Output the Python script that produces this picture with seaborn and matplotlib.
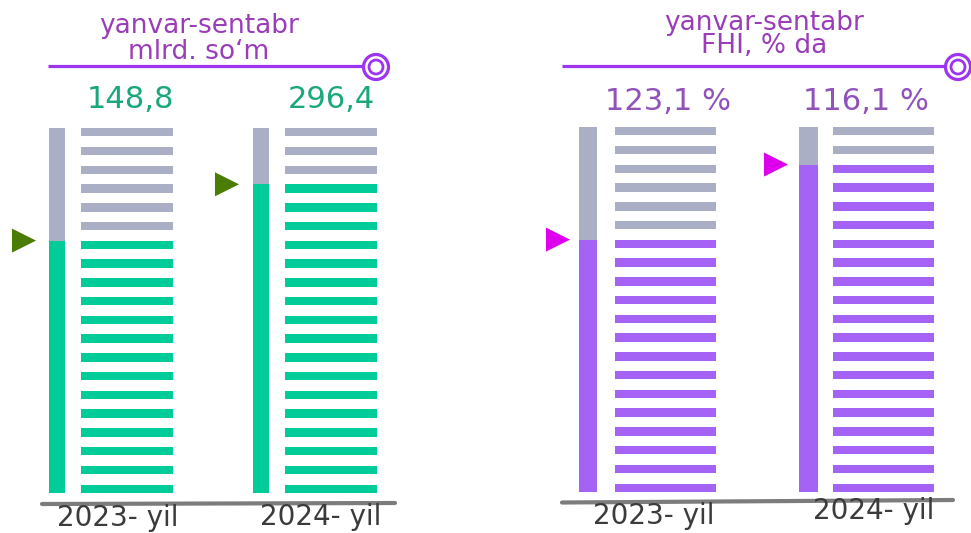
import matplotlib
matplotlib.use("Agg")
import matplotlib.pyplot as plt
import matplotlib.transforms as mtransforms
from matplotlib.patches import Circle
import numpy as np
import pandas as pd
import seaborn as sns

# ---------------- data ----------------
years = ["2023- yil", "2024- yil"]
sum_values = [148.8, 296.4]          # mlrd. so'm
growth_values = [123.1, 116.1]       # FHI, % da
total_stripes = 20
sum_filled = [14, 17]                # filled stripes, left panel
growth_filled = [14, 18]             # filled stripes, right panel
left_title = ["yanvar-sentabr", "mlrd. so\u2018m"]
right_title = ["yanvar-sentabr", "FHI, % da"]

# ---------------- style ----------------
sns.set_theme(style="white")
plt.rcParams["font.family"] = ["DejaVu Sans"]

W, H = 971, 533
fig = plt.figure(figsize=(W / 100, H / 100), dpi=100)
fig.patch.set_facecolor("white")

GREY = "#abafc6"
GREEN = "#00cc99"
PURPLE = "#a463f5"
OLIVE = "#4b7d05"
MAGENTA = "#dc00ec"
HEAD = "#9a3db8"
LINEC = "#9d35f0"


def rect(x0, y0, x1, y1):
    return [x0 / W, 1 - y1 / H, (x1 - x0) / W, (y1 - y0) / H]


# overlay axes in pixel coordinates
ov = fig.add_axes([0, 0, 1, 1])
ov.set_xlim(0, W)
ov.set_ylim(H, 0)
ov.axis("off")
ov.patch.set_alpha(0)

h = 0.45  # stripe thickness relative to pitch
T = (total_stripes - 1) + h


def draw_group(bar_px, stripe_px, y_px, n_filled, fill_col, marker_col, marker_off):
    # vertical progress bar
    axb = fig.add_axes(rect(bar_px[0], y_px[0], bar_px[1], y_px[1]))
    sns.barplot(x=["v"], y=[T], color=GREY, width=1, ax=axb, saturation=1)
    sns.barplot(x=["v"], y=[(n_filled - 1) + h], color=fill_col, width=1, ax=axb, saturation=1)
    for p in axb.patches:
        p.set_edgecolor("none")
    axb.set_xlim(-0.5, 0.5)
    axb.set_ylim(0, T)
    axb.axis("off")
    # marker at fill level
    tr = mtransforms.offset_copy(axb.transData, fig=fig, x=-marker_off, y=0, units="dots")
    sns.scatterplot(x=[-0.5], y=[(n_filled - 1) + h], marker=">", s=300, color=marker_col,
                    edgecolor="none", ax=axb, transform=tr, clip_on=False, legend=False)
    axb.set_xlim(-0.5, 0.5)
    axb.set_ylim(0, T)

    # stripes
    axs = fig.add_axes(rect(stripe_px[0], y_px[0], stripe_px[1], y_px[1]))
    idx = np.arange(total_stripes)
    df = pd.DataFrame({
        "pos": idx + h / 2,
        "len": np.ones(total_stripes),
        "state": np.where(idx < n_filled, "filled", "empty"),
    })
    sns.barplot(data=df, y="pos", x="len", hue="state", orient="y", native_scale=True,
                palette={"filled": fill_col, "empty": GREY}, width=h, dodge=False,
                ax=axs, legend=False, saturation=1)
    for p in axs.patches:
        p.set_edgecolor("none")
    axs.set_xlim(0, 1)
    axs.set_ylim(0, T)
    axs.axis("off")


# left panel
draw_group((49, 65), (81, 173), (128, 493), sum_filled[0], GREEN, OLIVE, 25)
draw_group((253, 269), (285, 377), (128, 493), sum_filled[1], GREEN, OLIVE, 26)
# right panel
draw_group((579, 597), (615, 716), (127, 492), growth_filled[0], PURPLE, MAGENTA, 21)
draw_group((799, 818), (833, 934), (127, 492), growth_filled[1], PURPLE, MAGENTA, 23)


def fmt(v):
    return f"{v:.1f}".replace(".", ",")


# value labels
for x, v in zip([130, 331], sum_values):
    ov.text(x, 100, fmt(v), ha="center", va="center", fontsize=22, color="#1ba77c")
for x, v in zip([668, 866], growth_values):
    ov.text(x, 102, fmt(v) + " %", ha="center", va="center", fontsize=22, color="#9152ba")

# year labels
for (x, y), t in zip([(118, 518), (321, 517)], years):
    ov.text(x, y, t, ha="center", va="center", fontsize=20, color="#3b3b3b")
for (x, y), t in zip([(654, 516), (874, 511)], years):
    ov.text(x, y, t, ha="center", va="center", fontsize=20, color="#3b3b3b")

# headers (two lines each)
ov.text(199, 39, "\n".join(left_title), ha="center", va="center", fontsize=19,
        color=HEAD, linespacing=1.0, multialignment="center")
ov.text(764, 35, "\n".join(right_title), ha="center", va="center", fontsize=19,
        color=HEAD, linespacing=0.85, multialignment="center")

# header rules with rings
for (x0, x1, y, cx) in [(48, 363, 66, 376), (562, 945, 66, 958)]:
    ov.plot([x0, x1], [y, y], color=LINEC, lw=2.3, solid_capstyle="butt")
    ov.add_patch(Circle((cx, y + 1), 12.5, facecolor="white", edgecolor=LINEC, lw=2.3, clip_on=False))
    ov.add_patch(Circle((cx, y + 1), 7, facecolor="white", edgecolor=LINEC, lw=2.0, clip_on=False))

# baselines
ov.plot([42, 395], [504, 503], color="#7c7c7c", lw=3, solid_capstyle="round")
ov.plot([562, 953], [502.5, 500], color="#7c7c7c", lw=3, solid_capstyle="round")

fig.savefig("out.png", dpi=100, facecolor="white")
